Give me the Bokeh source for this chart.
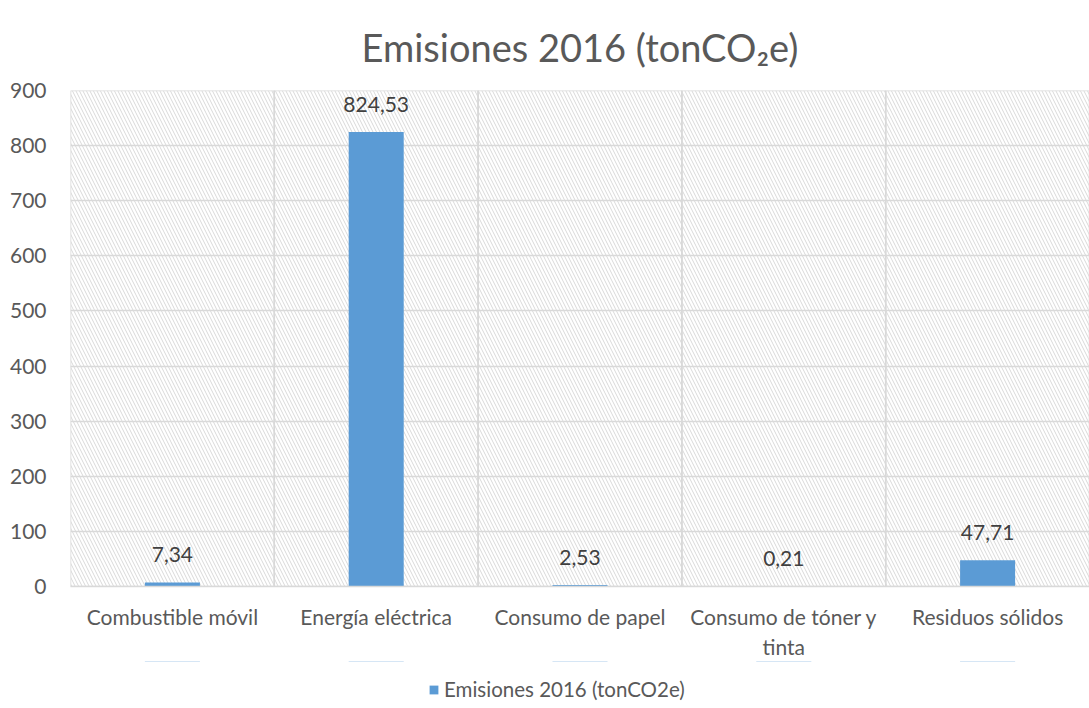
from bokeh.plotting import figure
from bokeh.models import (ColumnDataSource, Range1d, BoxAnnotation, Legend,
                          LegendItem, LabelSet, Title)
from bokeh.layouts import column
from bokeh.core.properties import value
from bokeh.embed import file_html
from bokeh.resources import INLINE

categories = ["Combustible móvil", "Energía eléctrica", "Consumo de papel",
              "Consumo de tóner y\ntinta", "Residuos sólidos"]
values = [7.34, 824.53, 2.53, 0.21, 47.71]
value_labels = ["7,34", "824,53", "2,53", "0,21", "47,71"]
series_name = "Emisiones 2016 (tonCO2e)"
title_text = "Emisiones 2016 (tonCO₂e)"
y_ticks = [0, 100, 200, 300, 400, 500, 600, 700, 800, 900]

FONT = "Lato"
GRID = "#d9d9d9"
TXT = "#595959"
BAR = "#5b9bd5"

src = ColumnDataSource(dict(cat=categories, val=values, lab=value_labels,
                            top=[y_ticks[-1]] * len(categories)))

p = figure(x_range=categories, y_range=Range1d(0, 900),
           width=1089, height=668, frame_width=1019, frame_height=496,
           output_backend="svg", toolbar_location=None,
           min_border_left=70, min_border_right=0, min_border_top=0,
           min_border_bottom=0)
p.outline_line_color = None
p.background_fill_color = "white"
p.border_fill_color = "white"
p.x_range.range_padding = 0

t = Title(text=title_text, align="center", text_font=FONT, text_font_size="38px",
          text_color=TXT, text_font_style="normal", standoff=42, offset=-19)
p.add_layout(t, "above")

hatch = BoxAnnotation(fill_color=None, line_color=None, hatch_pattern="\\",
                      hatch_color=GRID, hatch_scale=7, hatch_weight=1, level="underlay")
p.add_layout(hatch)

# category cell outlines (vertical gridlines at category boundaries)
p.vbar(x="cat", top="top", bottom=0, width=1.0, source=src, fill_color=None,
       line_color=GRID, line_width=1.5)

bars = p.vbar(x="cat", top="val", width=0.27, source=src, fill_color=BAR, line_color=None)

labels = LabelSet(x="cat", y="val", text="lab", source=src, text_align="center",
                  text_baseline="bottom", y_offset=20, text_font=value(FONT),
                  text_font_size=value("21px"), text_color=value("#404040"))
p.add_layout(labels)

p.xgrid.grid_line_color = None
p.ygrid.grid_line_color = GRID
p.ygrid.grid_line_width = 1.5
p.yaxis.ticker = y_ticks
p.yaxis.axis_line_color = None
p.yaxis.major_tick_line_color = None
p.yaxis.minor_tick_line_color = None
p.yaxis.major_label_standoff = 18
p.yaxis.major_label_text_font = FONT
p.yaxis.major_label_text_font_size = "21px"
p.yaxis.major_label_text_color = TXT

p.xaxis.axis_line_color = GRID
p.xaxis.axis_line_width = 1.5
p.xaxis.major_tick_line_color = None
p.xaxis.minor_tick_line_color = None
p.xaxis.major_label_standoff = 11
p.xaxis.major_label_text_font = FONT
p.xaxis.major_label_text_font_size = "21px"
p.xaxis.major_label_text_color = TXT

# legend strip below the chart (its renderer has zero height, so only the key shows)
lg = figure(x_range=categories, y_range=Range1d(-2000, -1000), width=1089, height=40,
            output_backend="svg", toolbar_location=None, x_axis_type=None,
            y_axis_type=None, min_border=0)
lg.outline_line_color = None
lg.grid.grid_line_color = None
lg_bars = lg.vbar(x="cat", top="val", bottom="val", width=0.27, source=src,
                  fill_color=BAR, line_color=None)
legend = Legend(items=[LegendItem(label=series_name, renderers=[lg_bars])],
                orientation="horizontal", location=(358, 0),
                label_text_font=FONT, label_text_font_size="20.5px",
                label_text_color=TXT, glyph_width=11, glyph_height=11,
                label_standoff=5, border_line_color=None, background_fill_alpha=0,
                margin=0, padding=2)
lg.add_layout(legend)

layout = column(p, lg, spacing=0)
open("out.html", "w").write(file_html(layout, INLINE))
